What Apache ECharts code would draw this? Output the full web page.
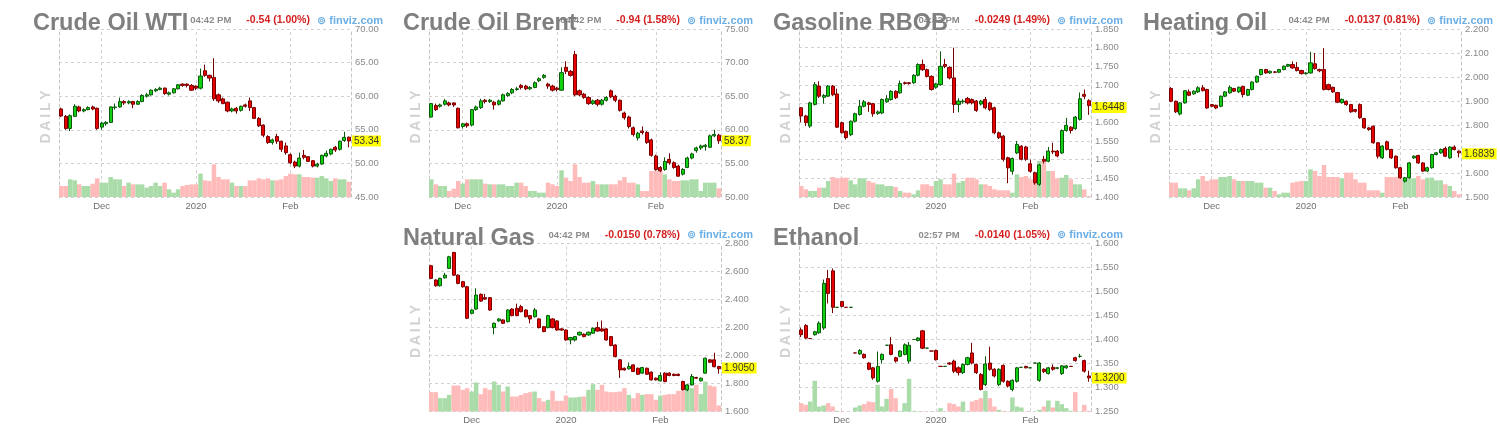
<!DOCTYPE html>
<html><head><meta charset="utf-8">
<script src="https://cdn.jsdelivr.net/npm/echarts@6/dist/echarts.min.js"></script>
<style>html,body{margin:0;padding:0;background:#fff;}#c{width:1500px;height:437px;}</style>
</head><body><div id="c"></div>
<script>
// ---------- categories ----------
const nymexDates = [
'2019-11-18','2019-11-19','2019-11-20','2019-11-21','2019-11-22','2019-11-25','2019-11-26','2019-11-27','2019-11-29',
'2019-12-02','2019-12-03','2019-12-04','2019-12-05','2019-12-06','2019-12-09','2019-12-10','2019-12-11','2019-12-12','2019-12-13',
'2019-12-16','2019-12-17','2019-12-18','2019-12-19','2019-12-20','2019-12-23','2019-12-24','2019-12-26','2019-12-27','2019-12-30','2019-12-31',
'2020-01-02','2020-01-03','2020-01-06','2020-01-07','2020-01-08','2020-01-09','2020-01-10','2020-01-13','2020-01-14','2020-01-15','2020-01-16','2020-01-17',
'2020-01-21','2020-01-22','2020-01-23','2020-01-24','2020-01-27','2020-01-28','2020-01-29','2020-01-30','2020-01-31',
'2020-02-03','2020-02-04','2020-02-05','2020-02-06','2020-02-07','2020-02-10','2020-02-11','2020-02-12','2020-02-13','2020-02-14',
'2020-02-18','2020-02-19','2020-02-20','2020-02-21'];
const iceDates = [
'2019-11-20','2019-11-21','2019-11-22','2019-11-25','2019-11-26','2019-11-27','2019-11-29',
'2019-12-02','2019-12-03','2019-12-04','2019-12-05','2019-12-06','2019-12-09','2019-12-10','2019-12-11','2019-12-12','2019-12-13',
'2019-12-16','2019-12-17','2019-12-18','2019-12-19','2019-12-20','2019-12-23','2019-12-24','2019-12-26','2019-12-27','2019-12-30','2019-12-31',
'2020-01-02','2020-01-03','2020-01-06','2020-01-07','2020-01-08','2020-01-09','2020-01-10','2020-01-13','2020-01-14','2020-01-15','2020-01-16','2020-01-17',
'2020-01-20','2020-01-21','2020-01-22','2020-01-23','2020-01-24','2020-01-27','2020-01-28','2020-01-29','2020-01-30','2020-01-31',
'2020-02-03','2020-02-04','2020-02-05','2020-02-06','2020-02-07','2020-02-10','2020-02-11','2020-02-12','2020-02-13','2020-02-14',
'2020-02-17','2020-02-18','2020-02-19','2020-02-20','2020-02-21'];
const monthTickDates = ['2019-12-02','2020-01-02','2020-02-03'];
const monthTickLabels = ['Dec','2020','Feb'];

// ---------- candles: [open, close, low, high] ----------
const wtiCandles = [
[58.1,57.05,56.9,58.3],[57.0,55.2,55.0,57.2],[55.2,57.1,54.8,57.3],[57.0,58.5,56.9,58.8],[58.4,57.8,57.6,58.6],
[57.8,58.0,57.6,58.2],[58.0,58.3,57.9,58.5],[58.4,58.1,57.9,58.6],[58.2,55.2,55.0,58.3],[55.4,56.0,55.0,56.2],
[55.9,56.1,55.6,56.3],[56.1,58.4,56.0,58.5],[58.3,58.4,58.0,58.9],[58.4,59.2,58.3,59.8],[59.2,59.0,58.7,59.4],
[59.0,59.2,58.8,59.4],[59.2,58.8,58.2,59.3],[58.8,59.2,58.7,59.4],[59.2,60.1,59.1,60.3],[60.0,60.2,59.8,60.5],
[60.2,60.9,60.1,61.0],[60.8,61.0,60.6,61.2],[61.0,61.2,60.9,61.4],[61.2,60.4,60.2,61.3],[60.3,60.5,60.1,60.7],
[60.5,61.1,60.4,61.2],[61.1,61.7,61.0,61.8],[61.8,61.6,61.4,61.9],[61.8,61.6,61.3,61.9],[61.6,60.9,60.8,61.8],
[61.5,61.2,60.9,61.6],[61.2,63.0,61.0,64.1],[63.8,63.1,62.9,64.7],[63.1,62.7,62.2,63.2],[62.8,59.6,59.3,65.65],
[60.2,59.3,59.0,60.4],[59.6,58.9,58.8,59.8],[59.1,57.8,57.6,59.2],[57.8,58.1,57.6,58.3],[58.2,57.8,57.4,58.4],
[57.9,58.5,57.7,58.6],[58.7,58.5,58.3,58.9],[59.3,58.3,57.8,59.8],[58.3,56.7,56.6,58.4],[56.7,55.6,55.4,56.9],
[55.7,54.2,53.9,55.8],[54.0,53.1,52.9,54.2],[53.1,53.5,52.8,53.7],[54.0,53.3,52.9,54.4],[53.3,52.1,51.7,53.4],
[52.6,51.6,51.3,53.1],[51.3,50.1,49.9,51.5],[50.2,49.6,49.3,50.4],[49.6,50.8,49.4,51.6],[51.2,50.9,50.6,52.0],
[51.0,50.3,50.2,51.1],[50.4,49.6,49.4,50.5],[49.6,49.9,49.4,50.1],[49.9,51.2,49.8,51.3],[51.1,51.5,50.9,51.9],
[51.4,52.1,51.2,52.2],[52.4,52.0,51.7,52.6],[52.1,53.3,51.9,53.4],[53.4,53.88,53.2,54.7],[53.9,53.34,52.4,54.0]];
const brentCandles = [
[61.9,63.9,61.8,64.0],[63.6,63.0,62.8,63.9],[63.5,63.7,63.3,63.9],[63.8,64.3,63.6,64.6],[64.0,63.7,63.5,64.2],
[64.0,63.7,63.4,64.1],[63.2,60.3,60.2,63.3],[60.5,60.9,60.2,61.0],[60.9,60.6,60.3,61.1],[60.7,63.0,60.5,63.1],
[63.0,63.4,62.8,63.6],[63.3,64.3,63.1,64.6],[64.4,64.2,63.9,64.6],[64.2,64.4,64.0,64.6],[64.1,63.7,63.0,64.3],
[63.8,64.3,63.6,64.5],[64.3,65.2,64.2,65.4],[65.1,65.4,64.9,65.6],[65.5,66.0,65.3,66.2],[66.0,66.1,65.8,66.4],
[66.6,66.3,66.0,66.8],[66.5,66.1,65.9,66.7],[66.1,66.3,65.9,66.5],[66.3,67.0,66.2,67.2],[67.3,67.6,67.1,67.8],
[67.8,68.1,67.6,68.3],[66.8,66.5,66.1,67.0],[66.5,65.9,65.7,66.7],[66.2,66.0,65.7,66.4],[65.9,68.5,65.8,69.3],
[69.3,68.7,68.3,70.2],[68.7,68.1,67.9,68.9],[71.2,65.2,65.0,71.75],[65.8,65.2,65.0,66.0],[65.3,64.8,64.6,65.5],
[64.8,63.9,63.7,65.0],[63.9,64.3,63.7,64.5],[64.4,63.8,63.5,64.6],[63.8,64.4,63.6,64.6],[64.4,64.8,64.2,65.0],
[65.8,64.9,64.7,66.0],[65.0,64.4,64.1,65.2],[64.4,62.9,62.7,64.5],[62.5,61.8,61.5,62.7],[61.9,60.5,60.2,62.1],
[60.3,59.3,59.0,60.5],[58.8,59.5,58.4,59.7],[59.8,59.6,59.3,60.5],[59.6,58.1,57.9,59.8],[58.5,56.2,56.0,58.7],
[56.1,54.1,53.9,56.3],[54.4,53.9,53.7,54.6],[54.1,55.3,53.9,55.9],[55.6,55.1,54.8,56.5],[55.1,54.4,54.2,55.3],
[54.6,53.1,53.0,54.8],[53.4,54.1,53.2,54.3],[54.4,55.8,54.3,56.0],[55.8,56.4,55.6,56.6],[56.9,57.3,56.6,57.5],
[57.3,57.6,57.0,57.8],[57.5,57.7,56.9,57.9],[57.4,59.1,57.3,59.3],[59.1,59.31,58.9,60.0],[59.2,58.37,57.9,59.4]];
const rbobCandles = [
[1.639,1.617,1.600,1.641],[1.617,1.599,1.590,1.620],[1.590,1.652,1.585,1.655],[1.648,1.701,1.645,1.708],[1.697,1.670,1.665,1.710],
[1.667,1.672,1.650,1.676],[1.670,1.697,1.668,1.700],[1.697,1.674,1.670,1.700],[1.676,1.587,1.585,1.690],[1.599,1.572,1.570,1.602],
[1.576,1.559,1.554,1.578],[1.567,1.603,1.563,1.605],[1.603,1.623,1.600,1.626],[1.621,1.643,1.618,1.660],[1.643,1.655,1.640,1.660],
[1.652,1.648,1.628,1.655],[1.650,1.623,1.615,1.652],[1.624,1.628,1.620,1.632],[1.625,1.661,1.622,1.664],[1.655,1.663,1.652,1.673],
[1.661,1.683,1.658,1.686],[1.683,1.666,1.662,1.686],[1.679,1.704,1.676,1.712],[1.706,1.704,1.701,1.709],[1.706,1.704,1.701,1.708],
[1.706,1.726,1.703,1.729],[1.726,1.755,1.723,1.758],[1.755,1.741,1.738,1.768],[1.741,1.723,1.720,1.744],[1.723,1.688,1.685,1.726],
[1.694,1.703,1.690,1.706],[1.701,1.750,1.698,1.790],[1.755,1.750,1.745,1.770],[1.747,1.719,1.715,1.750],[1.719,1.648,1.625,1.800],
[1.648,1.657,1.627,1.665],[1.655,1.657,1.650,1.662],[1.664,1.652,1.648,1.668],[1.661,1.652,1.648,1.664],[1.657,1.632,1.628,1.660],
[1.649,1.657,1.645,1.660],[1.661,1.639,1.635,1.668],[1.652,1.634,1.630,1.655],[1.639,1.572,1.568,1.642],[1.572,1.559,1.555,1.575],
[1.563,1.501,1.495,1.566],[1.505,1.478,1.437,1.508],[1.469,1.503,1.460,1.506],[1.518,1.541,1.515,1.550],[1.536,1.501,1.498,1.539],
[1.534,1.501,1.497,1.537],[1.489,1.469,1.465,1.500],[1.465,1.438,1.433,1.468],[1.434,1.486,1.430,1.489],[1.501,1.496,1.490,1.510],
[1.496,1.523,1.493,1.534],[1.523,1.521,1.515,1.545],[1.523,1.510,1.506,1.526],[1.518,1.578,1.515,1.581],[1.578,1.592,1.575,1.612],
[1.587,1.578,1.570,1.590],[1.583,1.614,1.580,1.617],[1.608,1.663,1.605,1.680],[1.675,1.6697,1.662,1.688],[1.658,1.6448,1.620,1.662]];
const hoCandles = [
[1.952,1.899,1.895,1.958],[1.899,1.855,1.850,1.902],[1.846,1.892,1.840,1.895],[1.892,1.943,1.889,1.946],[1.938,1.924,1.920,1.948],
[1.930,1.941,1.926,1.944],[1.938,1.955,1.934,1.962],[1.955,1.943,1.940,1.967],[1.948,1.871,1.867,1.951],[1.885,1.878,1.874,1.888],
[1.882,1.871,1.866,1.885],[1.878,1.920,1.874,1.923],[1.920,1.938,1.916,1.941],[1.934,1.957,1.930,1.965],[1.952,1.941,1.937,1.955],
[1.938,1.957,1.934,1.960],[1.961,1.927,1.915,1.964],[1.924,1.948,1.920,1.951],[1.948,1.979,1.944,1.982],[1.979,2.003,1.975,2.006],
[2.010,2.031,2.006,2.034],[2.031,2.017,2.013,2.034],[2.017,2.024,2.013,2.027],[2.021,2.020,2.016,2.024],[2.020,2.031,2.016,2.034],
[2.031,2.045,2.028,2.048],[2.045,2.052,2.041,2.055],[2.052,2.038,2.034,2.065],[2.040,2.027,2.023,2.062],[2.027,2.014,2.010,2.030],
[2.014,2.017,2.010,2.020],[2.017,2.059,2.014,2.105],[2.055,2.035,2.030,2.100],[2.031,2.026,2.020,2.035],[2.031,1.948,1.944,2.120],
[1.968,1.948,1.944,1.972],[1.957,1.938,1.934,1.960],[1.935,1.895,1.891,1.938],[1.893,1.907,1.889,1.910],[1.899,1.885,1.880,1.902],
[1.885,1.855,1.851,1.888],[1.864,1.857,1.852,1.867],[1.885,1.830,1.826,1.890],[1.827,1.788,1.784,1.830],[1.788,1.781,1.776,1.792],
[1.795,1.726,1.722,1.798],[1.726,1.670,1.660,1.729],[1.663,1.712,1.659,1.716],[1.730,1.698,1.694,1.735],[1.698,1.663,1.659,1.701],
[1.670,1.622,1.618,1.673],[1.622,1.580,1.576,1.625],[1.566,1.580,1.560,1.584],[1.580,1.642,1.576,1.646],[1.663,1.670,1.659,1.674],
[1.673,1.642,1.638,1.676],[1.642,1.608,1.604,1.645],[1.608,1.622,1.604,1.626],[1.622,1.677,1.618,1.680],[1.677,1.684,1.673,1.688],
[1.684,1.698,1.680,1.702],[1.702,1.670,1.666,1.710],[1.663,1.708,1.659,1.711],[1.708,1.6976,1.694,1.715],[1.691,1.6839,1.665,1.694]];
const ngCandles = [
[2.641,2.551,2.545,2.648],[2.539,2.498,2.492,2.545],[2.498,2.551,2.492,2.556],[2.555,2.574,2.549,2.590],[2.622,2.705,2.617,2.712],
[2.736,2.574,2.569,2.740],[2.574,2.515,2.509,2.580],[2.527,2.491,2.485,2.533],[2.491,2.266,2.260,2.497],[2.301,2.325,2.295,2.330],
[2.332,2.432,2.326,2.480],[2.437,2.389,2.383,2.443],[2.413,2.403,2.397,2.440],[2.413,2.325,2.320,2.418],[2.199,2.230,2.152,2.235],
[2.247,2.261,2.241,2.266],[2.254,2.230,2.225,2.259],[2.242,2.325,2.236,2.330],[2.332,2.285,2.280,2.337],[2.337,2.285,2.280,2.370],
[2.349,2.313,2.308,2.362],[2.325,2.277,2.272,2.330],[2.285,2.261,2.230,2.290],[2.277,2.325,2.271,2.340],[2.261,2.199,2.194,2.266],
[2.206,2.171,2.166,2.211],[2.199,2.285,2.194,2.290],[2.261,2.199,2.194,2.266],[2.247,2.182,2.177,2.252],[2.190,2.182,2.177,2.195],
[2.182,2.111,2.106,2.187],[2.111,2.128,2.080,2.133],[2.111,2.135,2.100,2.140],[2.147,2.166,2.141,2.171],[2.152,2.135,2.130,2.158],
[2.147,2.166,2.141,2.171],[2.159,2.194,2.154,2.200],[2.199,2.175,2.170,2.240],[2.190,2.175,2.170,2.250],[2.190,2.111,2.106,2.195],
[2.135,2.071,2.066,2.140],[2.075,1.992,1.987,2.080],[1.969,1.897,1.840,1.975],[1.909,1.897,1.892,1.914],[1.905,1.921,1.900,1.950],
[1.933,1.886,1.881,1.938],[1.909,1.866,1.861,1.914],[1.874,1.914,1.869,1.919],[1.909,1.866,1.861,1.914],[1.881,1.826,1.821,1.886],
[1.838,1.826,1.821,1.843],[1.819,1.857,1.814,1.880],[1.874,1.814,1.809,1.880],[1.874,1.857,1.852,1.880],[1.866,1.857,1.852,1.871],
[1.866,1.857,1.852,1.871],[1.814,1.755,1.750,1.820],[1.755,1.790,1.745,1.795],[1.790,1.850,1.785,1.868],[1.843,1.838,1.833,1.848],
[1.819,1.838,1.814,1.843],[1.874,1.981,1.869,1.986],[1.969,1.952,1.947,1.974],[1.969,1.920,1.915,2.020],[1.921,1.905,1.870,1.926]];
const ethanolCandles = [
[1.420,1.410,1.405,1.425],[1.429,1.403,1.401,1.432],[1.402,1.402,1.402,1.402],[1.410,1.416,1.408,1.418],[1.414,1.434,1.412,1.438],
[1.424,1.517,1.420,1.525],[1.527,1.496,1.475,1.545],[1.543,1.467,1.455,1.548],[1.467,1.467,1.467,1.467],[1.479,1.469,1.467,1.480],
[1.467,1.467,1.467,1.467],[1.467,1.467,1.467,1.467],[1.372,1.372,1.372,1.372],[1.370,1.377,1.368,1.380],[1.369,1.362,1.360,1.371],
[1.351,1.338,1.336,1.353],[1.341,1.320,1.316,1.343],[1.313,1.344,1.310,1.375],[1.358,1.369,1.350,1.371],[1.388,1.388,1.388,1.388],
[1.389,1.369,1.367,1.405],[1.362,1.355,1.352,1.364],[1.365,1.376,1.363,1.378],[1.369,1.389,1.367,1.392],[1.355,1.388,1.350,1.395],
[1.400,1.400,1.400,1.400],[1.398,1.403,1.396,1.405],[1.418,1.382,1.380,1.420],[1.382,1.382,1.382,1.382],[1.376,1.376,1.376,1.376],
[1.377,1.358,1.356,1.379],[1.344,1.344,1.344,1.344],[1.344,1.344,1.344,1.344],[1.351,1.349,1.347,1.353],[1.355,1.334,1.330,1.358],
[1.341,1.331,1.325,1.344],[1.331,1.348,1.328,1.350],[1.348,1.362,1.346,1.364],[1.372,1.351,1.348,1.393],[1.348,1.331,1.328,1.350],
[1.327,1.296,1.294,1.330],[1.306,1.349,1.303,1.365],[1.351,1.338,1.335,1.385],[1.338,1.324,1.321,1.340],[1.306,1.338,1.303,1.340],
[1.346,1.313,1.310,1.348],[1.313,1.303,1.300,1.315],[1.296,1.315,1.292,1.317],[1.313,1.341,1.310,1.343],[1.342,1.342,1.342,1.342],
[1.344,1.341,1.340,1.345],[1.341,1.341,1.341,1.341],[1.351,1.351,1.351,1.351],[1.315,1.351,1.312,1.353],[1.338,1.333,1.330,1.340],
[1.329,1.341,1.327,1.343],[1.342,1.338,1.335,1.348],[1.340,1.341,1.338,1.343],[1.329,1.345,1.326,1.347],[1.341,1.345,1.339,1.347],
[1.344,1.344,1.344,1.344],[1.362,1.356,1.354,1.364],[1.365,1.365,1.362,1.370],[1.356,1.334,1.331,1.358],[1.324,1.320,1.312,1.335]];

// ---------- volume (relative units) ----------
const wtiVolume = [33,33,53,50,38,33,33,40,56,43,43,60,53,53,33,43,38,38,38,28,33,43,33,43,23,13,23,33,36,38,38,70,50,48,98,60,53,53,43,33,33,33,50,50,56,53,56,50,50,53,63,70,68,68,60,60,58,58,63,56,48,56,53,53,46];
const brentVolume = [53,38,33,33,18,25,48,40,53,53,53,53,40,38,38,38,38,33,33,43,43,33,18,18,13,13,43,38,33,80,58,48,98,60,43,43,48,38,38,38,38,38,50,60,43,43,38,18,18,78,78,78,68,53,48,48,50,50,53,53,18,43,43,43,26];
const rbobVolume = [33,23,18,18,28,28,48,60,56,58,58,50,38,56,56,48,43,38,38,33,33,30,18,13,13,8,20,38,38,33,48,53,38,38,70,43,48,58,58,53,38,38,33,23,20,20,20,13,68,60,63,53,53,108,108,78,78,56,58,66,53,38,38,23,3];
const hoVolume = [43,43,26,26,20,26,53,63,48,53,53,60,60,63,53,48,48,48,48,43,43,28,28,18,8,13,13,43,46,48,48,83,78,63,96,60,60,60,56,73,73,53,43,43,20,20,20,13,60,60,60,58,58,56,56,63,53,58,58,50,50,38,33,18,8];
const ngVolume = [58,58,40,40,50,78,78,65,70,60,87,52,70,65,90,80,60,75,45,45,50,55,58,60,40,30,35,62,32,32,48,42,42,44,45,65,82,65,80,60,58,58,60,70,50,40,55,50,52,52,35,48,50,52,52,62,62,80,70,80,52,90,78,75,18];
const ethanolVolume = [25,20,30,92,15,18,25,15,2,1,0,0,12,18,22,30,28,80,15,38,68,40,2,25,98,2,1,1,0,1,1,10,0,25,22,15,30,2,30,35,40,62,40,15,5,2,1,42,15,12,1,0,0,5,15,33,12,32,22,10,2,58,1,20,2];

// ---------- panel texts ----------
const panelNames = ['Crude Oil WTI','Crude Oil Brent','Gasoline RBOB','Heating Oil','Natural Gas','Ethanol'];
const panelTimes = ['04:42 PM','04:42 PM','04:42 PM','04:42 PM','04:42 PM','02:57 PM'];
const panelChanges = ['-0.54 (1.00%)','-0.94 (1.58%)','-0.0249 (1.49%)','-0.0137 (0.81%)','-0.0150 (0.78%)','-0.0140 (1.05%)'];

// ---------- layout / config ----------
const FONT = '"Liberation Sans", Arial, Helvetica, sans-serif';
const panels = [
  {dates: nymexDates, candles: wtiCandles, volume: wtiVolume, yMin: 45, yMax: 70, yStep: 5, dec: 2, lastDec: 2, col: 0, row: 0},
  {dates: iceDates, candles: brentCandles, volume: brentVolume, yMin: 50, yMax: 75, yStep: 5, dec: 2, lastDec: 2, col: 1, row: 0},
  {dates: nymexDates, candles: rbobCandles, volume: rbobVolume, yMin: 1.40, yMax: 1.85, yStep: 0.05, dec: 3, lastDec: 4, col: 2, row: 0},
  {dates: nymexDates, candles: hoCandles, volume: hoVolume, yMin: 1.5, yMax: 2.2, yStep: 0.1, dec: 3, lastDec: 4, col: 3, row: 0},
  {dates: nymexDates, candles: ngCandles, volume: ngVolume, yMin: 1.6, yMax: 2.8, yStep: 0.2, dec: 3, lastDec: 4, col: 1, row: 1},
  {dates: nymexDates, candles: ethanolCandles, volume: ethanolVolume, yMin: 1.25, yMax: 1.6, yStep: 0.05, dec: 3, lastDec: 4, col: 2, row: 1}
];
const GRID_COLOR = '#d2d2d2';
const grid = [], xAxis = [], yAxis = [], series = [], title = [], graphic = [];

panels.forEach((p, i) => {
  const left = 59 + 370 * p.col;
  const top = 29 + 214.5 * p.row;
  const W = 292, H = 168;
  const last = p.candles[p.candles.length - 1][1];
  grid.push({left: left, top: top, width: W, height: H});
  xAxis.push({
    type: 'category', gridIndex: i, data: p.dates, boundaryGap: true,
    axisLine: {show: false}, axisTick: {show: false}, splitLine: {show: false},
    axisLabel: {
      interval: (idx, val) => monthTickDates.indexOf(val) >= 0,
      formatter: val => monthTickLabels[monthTickDates.indexOf(val)] || '',
      color: '#6e6e6e', fontSize: 9.5, margin: 4, fontFamily: FONT
    }
  });
  yAxis.push({
    type: 'value', gridIndex: i, position: 'right', min: p.yMin, max: p.yMax, interval: p.yStep,
    axisLine: {show: true, lineStyle: {color: '#c4c4c4', type: [3, 3], width: 1}},
    axisTick: {show: false},
    splitLine: {show: true, lineStyle: {color: GRID_COLOR, type: [3, 3], width: 1}},
    axisLabel: {
      color: '#8a8a8a', fontSize: 9.5, margin: 4, fontFamily: FONT,
      formatter: v => Math.abs(v - last) < p.yStep * 0.25 ? '' : v.toFixed(p.dec)
    }
  });
  yAxis.push({
    type: 'value', gridIndex: i, position: 'left', min: 0, max: 504,
    axisLine: {show: true, lineStyle: {color: '#c4c4c4', type: [3, 3], width: 1}},
    axisTick: {show: false}, axisLabel: {show: false}, splitLine: {show: false}
  });
  const mlData = monthTickDates.map(d => ({
    xAxis: d, lineStyle: {color: GRID_COLOR, type: [3, 3], width: 1}, label: {show: false}
  }));
  mlData.push({
    yAxis: last, lineStyle: {color: 'rgba(255,255,255,0)', width: 1},
    label: {
      show: true, position: 'end', distance: 1, formatter: () => last.toFixed(p.lastDec),
      backgroundColor: '#ffff00', color: '#333333', fontSize: 10, padding: [1, 2, 0, 2], fontFamily: FONT
    }
  });
  series.push({
    type: 'bar', xAxisIndex: i, yAxisIndex: 2 * i + 1, data: p.volume, silent: true,
    barCategoryGap: '0%', z: 2,
    itemStyle: {color: params => {
      const c = p.candles[params.dataIndex];
      return c[1] >= c[0] ? '#a9dca9' : '#ffbaba';
    }}
  });
  series.push({
    type: 'candlestick', xAxisIndex: i, yAxisIndex: 2 * i, data: p.candles, silent: true,
    barWidth: 3.6, z: 3,
    itemStyle: {color: '#12d012', color0: '#e60000', borderColor: '#0b5a0b', borderColor0: '#7a0000', borderWidth: 1},
    markLine: {silent: true, symbol: 'none', z: 1, animation: false, data: mlData}
  });
  title.push({
    text: '{t|' + panelTimes[i] + '}{c|' + panelChanges[i] + '}{f|\u229A finviz.com}',
    right: 1500 - (left + W + 32), top: top - 14, padding: 0,
    textStyle: {
      fontFamily: FONT,
      rich: {
        t: {fontSize: 9.5, fontWeight: 'bold', color: '#8c8c8c', fontFamily: FONT},
        c: {fontSize: 10.5, fontWeight: 'bold', color: '#d42020', fontFamily: FONT, padding: [0, 0, 0, 15]},
        f: {fontSize: 11, color: '#6aaee6', fontFamily: FONT + ', "DejaVu Sans"', padding: [0, 0, 0, 7]}
      }
    }
  });
  graphic.push({
    type: 'text', x: left - 13, y: top + 88, rotation: Math.PI / 2, silent: true,
    style: {text: 'D\u2009A\u2009I\u2009L\u2009Y', fill: '#d2d2d2', font: 'bold 14px ' + FONT, align: 'center', verticalAlign: 'middle'}
  });
});
panels.forEach((p, i) => {
  const left = 59 + 370 * p.col;
  const top = 29 + 214.5 * p.row;
  title.push({
    text: panelNames[i], left: left - 26, top: top - 17, padding: 0,
    textStyle: {fontSize: 23.5, fontWeight: 'bold', color: '#7f7f7f', fontFamily: FONT}
  });
});

const chart = echarts.init(document.getElementById('c'), null, {renderer: 'canvas'});
chart.setOption({
  animation: false,
  backgroundColor: '#ffffff',
  textStyle: {fontFamily: FONT},
  title: title, grid: grid, xAxis: xAxis, yAxis: yAxis, series: series, graphic: graphic
});
</script>
</body></html>
